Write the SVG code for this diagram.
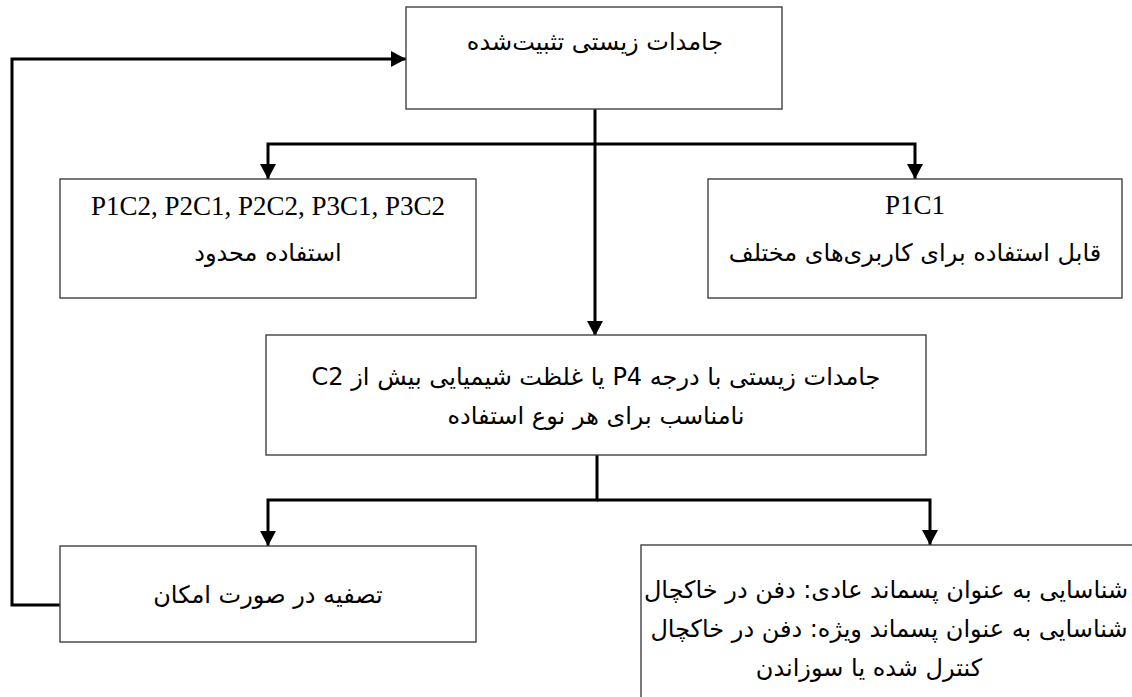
<svg xmlns="http://www.w3.org/2000/svg" width="1132" height="697" viewBox="0 0 1132 697">
<style>
.box{fill:#fff;stroke:#404040;stroke-width:1.4}
.t{font-family:"Liberation Serif","DejaVu Serif",serif;font-size:27px;fill:#000;text-anchor:middle}
.fa{font-family:"DejaVu Sans","Noto Sans",sans-serif;font-size:24px;fill:#000;text-anchor:middle}
.c{fill:none;stroke:#000;stroke-width:3}
</style>
<defs>
<marker id="ah" markerWidth="16" markerHeight="16" viewBox="0 0 15 16" refX="15" refY="8" orient="auto" markerUnits="userSpaceOnUse">
<path d="M0,0 L15,8 L0,16 Z" fill="#000"/>
</marker>
</defs>
<g id="connectors">
<path class="c" d="M595,109 V336" marker-end="url(#ah)"/>
<path class="c" d="M596,144 H268 V179" marker-end="url(#ah)"/>
<path class="c" d="M596,144 H915 V179" marker-end="url(#ah)"/>
<path class="c" d="M597,455 V500 H268 V546" marker-end="url(#ah)"/>
<path class="c" d="M597,500 H930 V545" marker-end="url(#ah)"/>
<path class="c" d="M60,605 H12 V59 H406" marker-end="url(#ah)"/>
</g>
<g id="n1">
<rect class="box" x="406" y="7" width="376" height="102"/>
<text class="fa" x="595" y="50" direction="rtl">جامدات زیستی تثبیت‌شده</text>
</g>
<g id="n2">
<rect class="box" x="60" y="179" width="416" height="119"/>
<text class="t" x="268" y="215">P1C2, P2C1, P2C2, P3C1, P3C2</text>
<text class="fa" x="268" y="261" direction="rtl">استفاده محدود</text>
</g>
<g id="n3">
<rect class="box" x="708" y="179" width="414" height="119"/>
<text class="t" x="915" y="214">P1C1</text>
<text class="fa" x="915" y="261" direction="rtl">قابل استفاده برای کاربری‌های مختلف</text>
</g>
<g id="n4">
<rect class="box" x="266" y="335" width="660" height="120"/>
<text class="fa" x="596" y="385" direction="rtl">جامدات زیستی با درجه P4 یا غلظت شیمیایی بیش از C2</text>
<text class="fa" x="596" y="424" direction="rtl">نامناسب برای هر نوع استفاده</text>
</g>
<g id="n5">
<rect class="box" x="60" y="546" width="416" height="96"/>
<text class="fa" x="268" y="603" direction="rtl">تصفیه در صورت امکان</text>
</g>
<g id="n6">
<rect class="box" x="641" y="545" width="500" height="160"/>
<text class="fa" x="886" y="598" direction="rtl">شناسایی به عنوان پسماند عادی: دفن در خاکچال</text>
<text class="fa" x="889" y="637" direction="rtl">شناسایی به عنوان پسماند ویژه: دفن در خاکچال</text>
<text class="fa" x="869" y="676" direction="rtl">کنترل شده یا سوزاندن</text>
</g>
</svg>
